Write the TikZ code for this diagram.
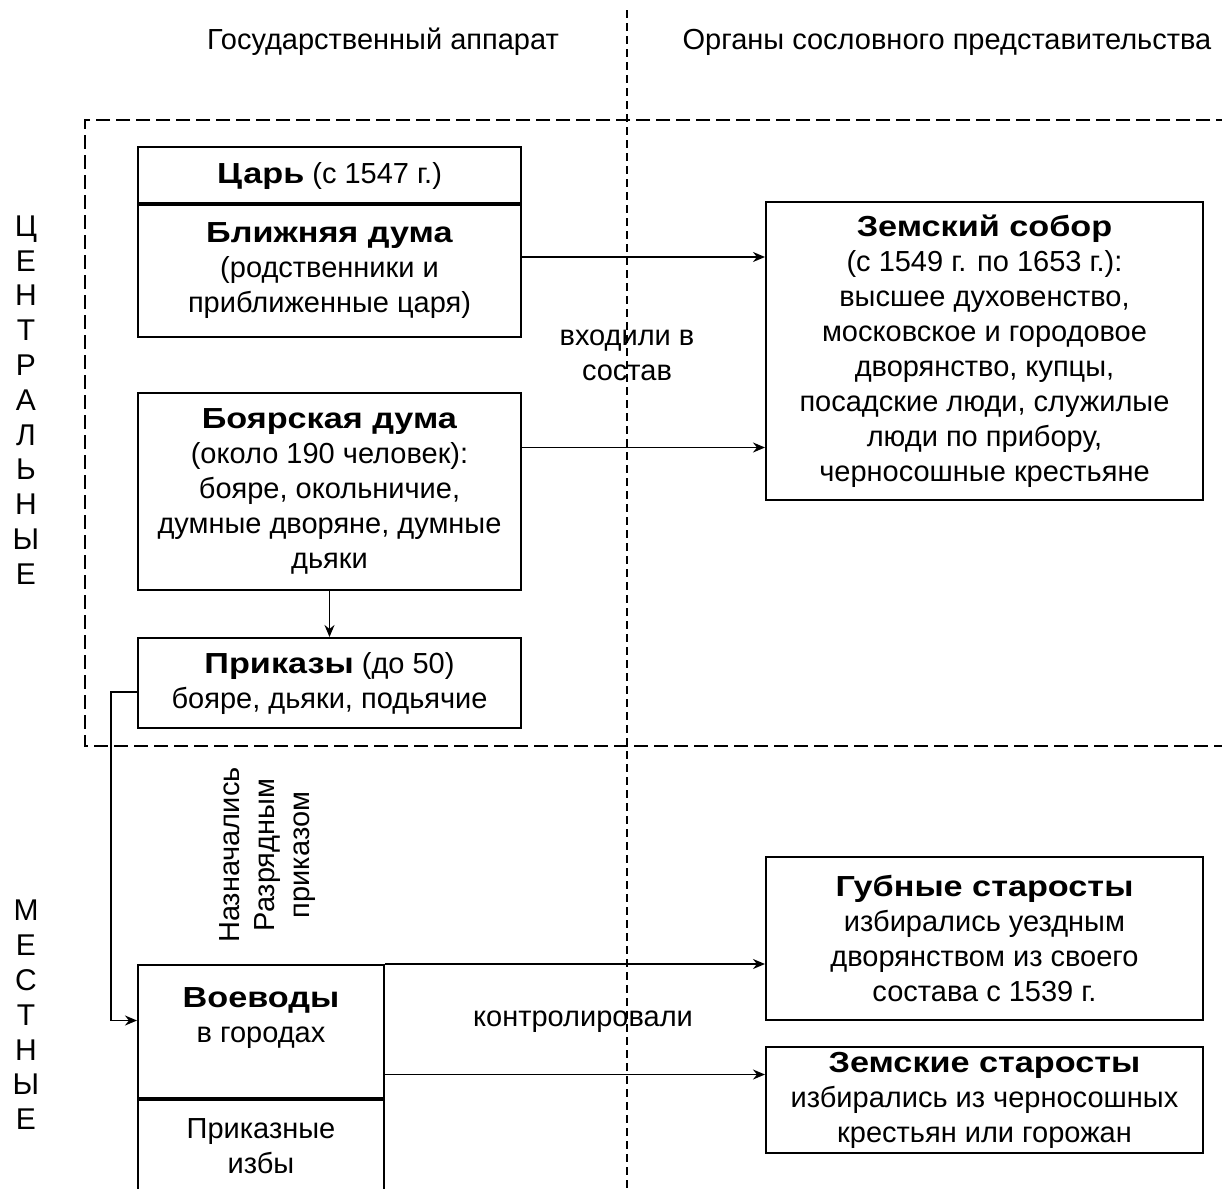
\documentclass[tikz,border=0pt]{standalone}
\usepackage{fontspec}
\setmainfont{Liberation Sans}[BoldFeatures={FakeStretch=1.18}]
\usepackage{tikz}
\usetikzlibrary{
  arrows.meta,
  calc
}
\tikzset{
  every node/.style={font=\fontsize{14.5}{17.5}\selectfont},
  box/.style={draw,line width=1pt,align=center,inner sep=0pt},
  caption/.style={align=center,inner sep=0pt},
  side letters/.style={align=center,inner sep=0pt,font=\fontsize{15}{17.4}\selectfont},
  split line/.style={line width=2pt},
  column line/.style={line width=0.8pt,dash pattern=on 4pt off 2.5pt},
  frame line/.style={line width=0.8pt,dash pattern=on 7pt off 3pt},
  link/.style={line width=0.9pt,-{Stealth[length=6pt,width=5pt]}},
}

\begin{document}
\begin{tikzpicture}[x=0.5pt,y=-0.5pt]
\useasboundingbox (0,0) rectangle (1222,1189);
\clip (0,0) rectangle (1222,1189);
% column headers and dividers
\node[caption] (state) at (383,42) {Государственный аппарат};
\node[caption] (estates) at (947,42) {Органы сословного представительства};
\draw[column line] (627,10) -- (627,1189);
\draw[frame line] (1230,120) -- (85,120) -- (85,746) -- (1230,746);
\node[side letters] (central) at (26,400) {Ц\\Е\\Н\\Т\\Р\\А\\Л\\Ь\\Н\\Ы\\Е};
\node[side letters] (local) at (26,1015) {М\\Е\\С\\Т\\Н\\Ы\\Е};
% central bodies
\node[box,minimum width=191.5pt,minimum height=29pt] (tsar) at (329.5,176)
  {\textbf{Царь} (с 1547 г.)};
\node[box,minimum width=191.5pt,minimum height=66pt] (blizh) at (329.5,271)
  {\textbf{Ближняя дума}\\(родственники и\\приближенные царя)};
\draw[split line] (blizh.north west) -- (blizh.north east);
\node[box,minimum width=191.5pt,minimum height=98.5pt] (boyar) at (329.5,491.5)
  {\textbf{Боярская дума}\\(около 190 человек):\\бояре, окольничие,\\думные дворяне, думные\\дьяки};
\node[box,minimum width=191.5pt,minimum height=45pt] (prikaz) at (329.5,683)
  {\textbf{Приказы} (до 50)\\бояре, дьяки, подьячие};
\node[box,minimum width=218.5pt,minimum height=149pt] (sobor) at (984.5,351)
  {\textbf{Земский собор}\\(с 1549 г. по 1653 г.):\\высшее духовенство,\\московское и городовое\\дворянство, купцы,\\посадские люди, служилые\\люди по прибору,\\черносошные крестьяне};
\node[caption] (sostav) at (627,355) {входили в\\состав};
% local bodies
\node[box,minimum width=123pt,minimum height=67.5pt] (voevody) at (261,1032.5)
  {\textbf{Воеводы}\\в городах\\\mbox{}};
\node[box,minimum width=123pt,minimum height=46pt] (izby) at (261,1146)
  {Приказные\\избы};
\draw[split line] (izby.north west) -- (izby.north east);
\node[box,minimum width=218.5pt,minimum height=81.5pt] (gub) at (984.5,938.5)
  {\textbf{Губные старосты}\\избирались уездным\\дворянством из своего\\состава с 1539 г.};
\node[box,minimum width=218.5pt,minimum height=53pt] (zem) at (984.5,1100)
  {\textbf{Земские старосты}\\избирались из черносошных\\крестьян или горожан};
\node[caption,rotate=90] (naznach) at (268,855) {Назначались\\Разрядным\\приказом};
\node[caption] (kontrol) at (583,1022) {контролировали};
% connectors
\draw[link] ([yshift=7pt]blizh.east) -- ([yshift=7pt]blizh.east -| sobor.west);
\draw[link] ([yshift=22pt]boyar.east) -- ([yshift=22pt]boyar.east -| sobor.west);
\draw[link] (boyar.south) -- (prikaz.north);
\draw[link] ([yshift=-4.5pt]prikaz.west) -- ++(-13pt,0) |- ([yshift=6pt]voevody.west);
\draw[link] (voevody.north east) -- (voevody.north east -| gub.west);
\draw[link] ([yshift=-21pt]voevody.east) -- ([yshift=-21pt]voevody.east -| zem.west);
\end{tikzpicture}
\end{document}
